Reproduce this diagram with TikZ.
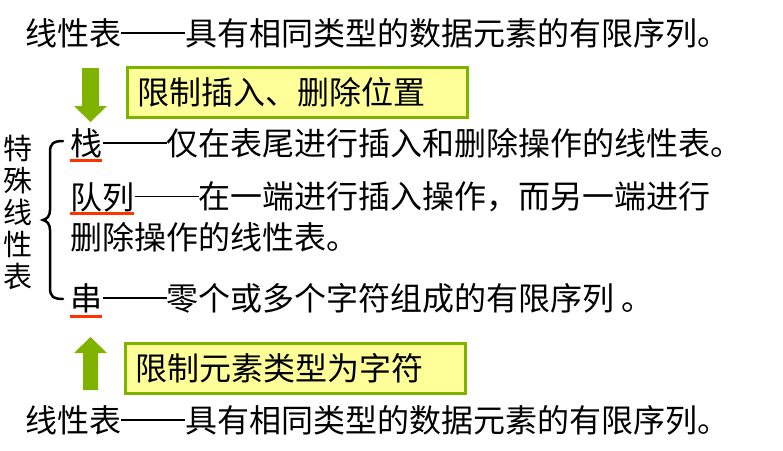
\documentclass[tikz,border=0pt]{standalone}
\usepackage{fontspec}
\newfontfamily\cjk{Noto Sans CJK SC}
\definecolor{agreen}{HTML}{80B300}
\definecolor{byellow}{HTML}{FFFF99}
\definecolor{ured}{HTML}{FF3300}
\newcommand\zdash{\rule[0.36em]{2em}{1.3pt}}
\tikzset{
  txt/.style={font=\cjk\fontsize{32}{34}\selectfont, inner sep=0pt, anchor=west},
  boxtxt/.style={font=\cjk\fontsize{32}{34}\selectfont, draw=agreen, line width=3pt, fill=byellow, inner xsep=10pt, minimum height=50pt, minimum width=340pt, anchor=west, text width=320pt},
  garrow/.style={fill=agreen, draw=none},
  uline/.style={draw=ured, line width=3pt},
}
\begin{document}
\begin{tikzpicture}[x=1pt,y=-1pt]
\useasboundingbox (0,0) rectangle (783,450);
\fill[white] (0,0) rectangle (783,450);
% top and bottom lines
\node[txt] (top) at (25,33) {线性表\zdash 具有相同类型的数据元素的有限序列。};
\node[txt] (bot) at (25,420) {线性表\zdash 具有相同类型的数据元素的有限序列。};
% arrows
\fill[garrow] (82,68) -- (99,68) -- (99,106) -- (107,106) -- (90.5,122) -- (74,106) -- (82,106) -- cycle;
\fill[garrow] (83,390) -- (98,390) -- (98,353) -- (107,353) -- (90.5,337) -- (74,353) -- (83,353) -- cycle;
% boxes
\node[boxtxt] (b1) at (126,92) {限制插入、删除位置};
\node[boxtxt] (b2) at (124,368) {限制元素类型为字符};
% vertical label
\node[font=\cjk\fontsize{29}{32}\selectfont, align=center, inner sep=0pt] (lab) at (18,212) {特\\殊\\线\\性\\表};
% brace
\draw[line width=2.5pt, line cap=round] (63,141) .. controls (53,141) and (50,144) .. (50,152) -- (50,210) .. controls (50,216) and (47,219) .. (43,220) .. controls (47,221) and (50,224) .. (50,230) -- (50,288) .. controls (50,296) and (53,299) .. (63,299);
% entries
\node[txt] (s1) at (70,143) {栈};
\node[txt] (s1r) at (s1.east) {\zdash 仅在表尾进行插入和删除操作的线性表。};
\node[txt] (s2) at (70,197) {队列};
\node[txt] (s2r) at (s2.east) {\zdash 在一端进行插入操作，而另一端进行};
\node[txt] (s2b) at (70,237) {删除操作的线性表。};
\node[txt] (s3) at (70,298) {串};
\node[txt] (s3r) at (s3.east) {\zdash 零个或多个字符组成的有限序列 。};
% underlines
\draw[uline] (s1.west |- 0,160) -- (s1.east |- 0,160);
\draw[uline] (s2.west |- 0,213) -- (s2.east |- 0,213);
\draw[uline] (s3.west |- 0,316) -- (s3.east |- 0,316);
\end{tikzpicture}
\end{document}
